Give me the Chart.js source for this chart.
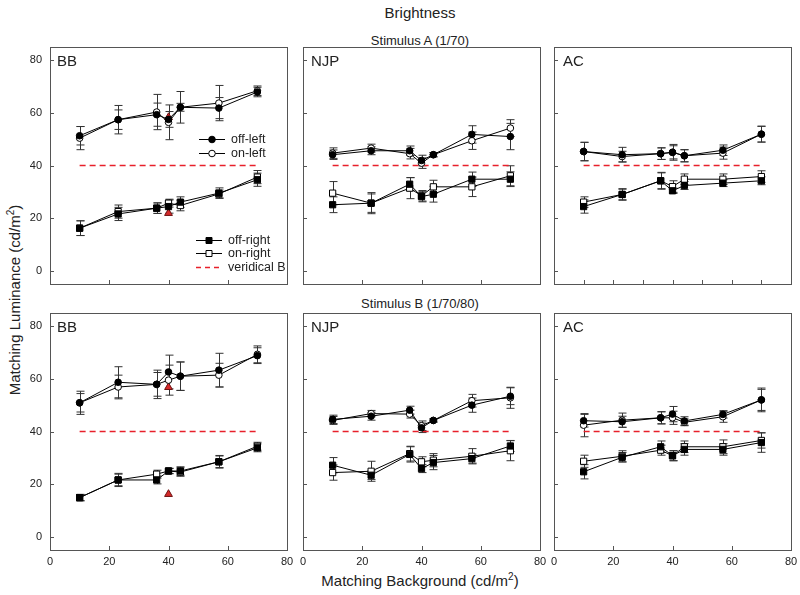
<!DOCTYPE html>
<html>
<head>
<meta charset="utf-8">
<script src="https://cdn.jsdelivr.net/npm/chart.js@4.4.1/dist/chart.umd.min.js"></script>
<style>
body { margin: 0; width: 800px; height: 595px; background: #fff; position: relative; overflow: hidden;
       font-family: "Liberation Sans", Arial, sans-serif; color: #222; }
.t { position: absolute; white-space: nowrap; transform: translate(-50%, -50%); }
.lab { position: absolute; font-size: 15px; }
canvas { position: absolute; }
</style>
</head>
<body>

<div class="t" style="left:420px;top:12px;font-size:15px">Brightness</div>
<div class="t" style="left:420px;top:40px;font-size:13px">Stimulus A (1/70)</div>
<div class="t" style="left:420px;top:303px;font-size:13px">Stimulus B (1/70/80)</div>
<div class="t" style="left:420px;top:580px;font-size:15px">Matching Background (cd/m<sup style="font-size:10px">2</sup>)</div>
<div class="t" style="left:14px;top:300px;font-size:15px;transform:translate(-50%,-50%) rotate(-90deg)">Matching Luminance (cd/m<sup style="font-size:10px">2</sup>)</div>

<canvas id="aBB" width="277" height="269" style="left:20px;top:39px"></canvas>
<canvas id="aNJP" width="277" height="269" style="left:273px;top:39px"></canvas>
<canvas id="aAC" width="277" height="269" style="left:524px;top:39px"></canvas>
<canvas id="bBB" width="277" height="269" style="left:20px;top:305px"></canvas>
<canvas id="bNJP" width="277" height="269" style="left:273px;top:305px"></canvas>
<canvas id="bAC" width="277" height="269" style="left:524px;top:305px"></canvas>

<div class="lab" style="left:57px;top:52px">BB</div>
<div class="lab" style="left:311px;top:52px">NJP</div>
<div class="lab" style="left:563px;top:52px">AC</div>
<div class="lab" style="left:57px;top:318px">BB</div>
<div class="lab" style="left:311px;top:318px">NJP</div>
<div class="lab" style="left:563px;top:318px">AC</div>

<script>
// background luminance of each condition
const xs = [10, 23, 36, 40, 44, 57, 70];
const yTicks = [0, 20, 40, 60, 80];
const xTicks = [0, 20, 40, 60, 80];
const xTicksFine = [0, 10, 20, 30, 40, 50, 60, 70, 80];
const veridical = 40;

// Stimulus A
const aBB_offL = [51.3, 57.4, 59.3, 57.5, 62.1, 61.8, 67.9];
const aBB_offL_err = [3.5, 5.4, 4.4, 3, 1.5, 4, 1.8];
const aBB_onL = [50.4, 57.4, 60.3, 56.4, 62.1, 63.7, 68.4];
const aBB_onL_err = [4.4, 3.7, 6.7, 6.6, 6, 6.7, 1.8];
const aBB_offR = [16.2, 21.6, 23.8, 24.4, 26.1, 29.5, 34.6];
const aBB_offR_err = [2.8, 2.5, 2, 2.5, 2, 2, 2.5];
const aBB_onR = [16.2, 22.5, 23.8, 25.7, 24.8, 29.2, 35.6];
const aBB_onR_err = [2.8, 2.5, 2, 1.5, 2, 1.5, 2.5];
const aBB_tri = [58.3, 21.9];

const aNJP_offL = [44.1, 45.6, 45.6, 41.9, 44.1, 51.8, 51.0];
const aNJP_offL_err = [1.8, 1.5, 1.8, 2, 0.8, 3.3, 5];
const aNJP_onL = [44.7, 46.6, 44.5, 40.9, 44.1, 49.4, 54.2];
const aNJP_onL_err = [2, 1.5, 2, 2, 0.8, 3.3, 3.2];
const aNJP_offR = [25.1, 25.7, 32.9, 28.2, 29.1, 34.8, 34.8];
const aNJP_offR_err = [3, 3.5, 2.5, 2, 3, 2.7, 2.8];
const aNJP_onR = [29.5, 25.7, 31.4, 28.5, 31.9, 31.9, 36.1];
const aNJP_onR_err = [4.4, 4, 4, 2, 2.5, 3.7, 3.8];

const aAC_offL = [45.3, 44.1, 44.5, 45.0, 43.7, 45.8, 51.9];
const aAC_offL_err = [3.5, 2.8, 2.2, 3, 2.3, 2, 3];
const aAC_onL = [45.3, 43.4, 44.5, 45.0, 43.7, 44.7, 51.9];
const aAC_onL_err = [3.5, 2, 2.2, 2.5, 2.3, 2.3, 3];
const aAC_offR = [24.4, 29.0, 34.2, 30.4, 32.4, 33.3, 34.2];
const aAC_offR_err = [2.5, 2.2, 3.2, 1, 1.5, 1.3, 1.5];
const aAC_onR = [26.1, 29.0, 34.2, 32.0, 34.8, 34.8, 35.8];
const aAC_onR_err = [2, 2, 3, 2.2, 2, 2, 2.2];

// Stimulus B
const bBB_offL = [50.9, 58.7, 57.9, 62.6, 61.0, 63.3, 68.8];
const bBB_offL_err = [4.4, 5.9, 5.4, 6.4, 5.4, 6.4, 3];
const bBB_onL = [50.9, 56.9, 57.9, 59.5, 61.0, 61.4, 69.3];
const bBB_onL_err = [3.5, 4.5, 4.5, 5.7, 5.4, 4.5, 3.2];
const bBB_offR = [14.9, 21.6, 21.6, 25.0, 25.0, 28.5, 33.8];
const bBB_offR_err = [1.2, 2.5, 1.5, 1, 1.6, 2.4, 1.5];
const bBB_onR = [14.9, 21.6, 23.8, 25.0, 24.6, 28.5, 34.4];
const bBB_onR_err = [1.2, 2.2, 1.5, 1, 1.6, 2.2, 1.5];
const bBB_tri = [56.8, 16.2];

const bNJP_offL = [44.6, 45.8, 48.1, 41.4, 44.2, 50.0, 53.4];
const bNJP_offL_err = [1.6, 1.5, 1.5, 1.8, 0.6, 2.7, 3.2];
const bNJP_onL = [44.2, 46.8, 46.6, 42.2, 44.2, 51.7, 52.8];
const bNJP_onL_err = [1.5, 1.2, 1.5, 1.8, 0.6, 2.4, 4];
const bNJP_offR = [27.2, 23.4, 31.3, 25.9, 28.2, 29.7, 34.5];
const bNJP_offR_err = [2.9, 1.6, 2.9, 1.5, 2.7, 1.7, 2.1];
const bNJP_onR = [24.4, 24.9, 31.6, 28.5, 29.1, 30.6, 32.7];
const bNJP_onR_err = [2.9, 3.8, 2.8, 1.9, 2.5, 2.9, 3.8];

const bAC_offL = [44.1, 43.7, 45.2, 46.6, 44.0, 46.5, 52.0];
const bAC_offL_err = [2.4, 2.1, 2.3, 2.9, 1.6, 1.4, 4];
const bAC_onL = [42.4, 44.3, 45.2, 45.2, 43.5, 45.6, 52.0];
const bAC_onL_err = [4.4, 2.7, 2.3, 2.5, 1.3, 2.1, 4.5];
const bAC_offR = [24.7, 30.2, 34.2, 30.8, 33.2, 33.2, 35.8];
const bAC_offR_err = [2.7, 1.8, 2.2, 1.9, 2.2, 2.2, 3.7];
const bAC_onR = [28.7, 30.6, 32.9, 30.8, 34.2, 34.2, 36.6];
const bAC_onR_err = [2.3, 2.1, 1.9, 1.9, 2.2, 2.6, 2.9];

const RED = '#e8202b';
const FRAME = '#555';
const FONT = '"Liberation Sans", Arial, sans-serif';

const pts = (vals) => vals.map((v, i) => ({ x: xs[i], y: v }));

function series(vals, err, style, fill) {
    return {
        data: pts(vals), err: err,
        borderColor: '#000', borderWidth: 1, lineTension: 0,
        pointStyle: style, pointRadius: style === 'rect' ? 4.4 : 3.3,
        pointBackgroundColor: fill, pointBorderColor: '#000', pointBorderWidth: 1
    };
}

// error bars, drawn under the markers
const errPlugin = {
    id: 'errbars',
    beforeDatasetsDraw(chart) {
        const ctx = chart.ctx, ys = chart.scales.y;
        ctx.save();
        ctx.strokeStyle = '#333';
        ctx.lineWidth = 1;
        chart.data.datasets.forEach((ds, di) => {
            if (!ds.err) return;
            chart.getDatasetMeta(di).data.forEach((p, i) => {
                const v = ds.data[i].y, e = ds.err[i];
                const top = ys.getPixelForValue(v + e), bot = ys.getPixelForValue(v - e);
                const x = Math.round(p.x) + 0.5;
                ctx.beginPath();
                ctx.moveTo(x, top); ctx.lineTo(x, bot);
                ctx.moveTo(x - 4, top); ctx.lineTo(x + 4, top);
                ctx.moveTo(x - 4, bot); ctx.lineTo(x + 4, bot);
                ctx.stroke();
            });
        });
        ctx.restore();
    }
};

// box round the plot and inward tick marks
const framePlugin = {
    id: 'frame',
    afterDraw(chart) {
        const ctx = chart.ctx, a = chart.chartArea;
        const xsc = chart.scales.x, ysc = chart.scales.y;
        ctx.save();
        ctx.strokeStyle = FRAME;
        ctx.lineWidth = 1;
        ctx.strokeRect(Math.round(a.left) + 0.5, Math.round(a.top) + 0.5,
                       Math.round(a.right - a.left), Math.round(a.bottom - a.top));
        ctx.beginPath();
        xsc.ticks.forEach(t => {
            const x = Math.round(xsc.getPixelForValue(t.value)) + 0.5;
            ctx.moveTo(x, a.bottom); ctx.lineTo(x, a.bottom - 4);
        });
        ysc.ticks.forEach(t => {
            const y = Math.round(ysc.getPixelForValue(t.value)) + 0.5;
            ctx.moveTo(a.left, y); ctx.lineTo(a.left + 4, y);
        });
        ctx.stroke();
        ctx.restore();
    }
};

// legend inside the first panel
const legendPlugin = {
    id: 'legendBB',
    afterDraw(chart) {
        const ctx = chart.ctx, a = chart.chartArea;
        const ox = a.left - 50, oy = a.top - 47;
        const items = [
            { y: 139, kind: 'circle', fill: '#000', text: 'off-left', x0: 199, x1: 225, mx: 212, tx: 231 },
            { y: 153, kind: 'circle', fill: '#fff', text: 'on-left', x0: 199, x1: 225, mx: 212, tx: 231 },
            { y: 240, kind: 'rect', fill: '#000', text: 'off-right', x0: 196, x1: 222, mx: 209, tx: 228 },
            { y: 253, kind: 'rect', fill: '#fff', text: 'on-right', x0: 196, x1: 222, mx: 209, tx: 228 },
            { y: 267, kind: 'dash', text: 'veridical B', x0: 196, x1: 222, tx: 228 }
        ];
        ctx.save();
        ctx.font = '12.5px ' + FONT;
        ctx.textBaseline = 'middle';
        items.forEach(it => {
            const y = it.y + oy + 0.5;
            ctx.beginPath();
            if (it.kind === 'dash') {
                ctx.strokeStyle = RED; ctx.lineWidth = 1.3; ctx.setLineDash([5, 4]);
            } else {
                ctx.strokeStyle = '#000'; ctx.lineWidth = 1; ctx.setLineDash([]);
            }
            ctx.moveTo(it.x0 + ox, y); ctx.lineTo(it.x1 + ox, y);
            ctx.stroke();
            ctx.setLineDash([]);
            ctx.lineWidth = 1;
            ctx.strokeStyle = '#000';
            ctx.fillStyle = it.fill;
            if (it.kind === 'circle') {
                ctx.beginPath(); ctx.arc(it.mx + ox, y, 3.3, 0, Math.PI * 2); ctx.fill(); ctx.stroke();
            } else if (it.kind === 'rect') {
                ctx.beginPath(); ctx.rect(it.mx + ox - 3, y - 3, 6, 6); ctx.fill(); ctx.stroke();
            }
            ctx.fillStyle = '#222';
            ctx.fillText(it.text, it.tx + ox, y);
        });
        ctx.restore();
    }
};

function noPad(s) {
    s.paddingTop = 0; s.paddingBottom = 0; s.paddingLeft = 0; s.paddingRight = 0;
}

function makePanel(id, offL, offLe, onL, onLe, offR, offRe, onR, onRe, tri, opts) {
    const datasets = [
        series(offL, offLe, 'circle', '#000'),
        series(onL, onLe, 'circle', '#fff'),
        series(offR, offRe, 'rect', '#000'),
        series(onR, onRe, 'rect', '#fff'),
        {
            data: [{ x: xs[0], y: veridical }, { x: xs[xs.length - 1], y: veridical }],
            borderColor: RED, borderWidth: 1.5, borderDash: [6, 4], pointRadius: 0
        }
    ];
    if (tri) {
        datasets.push({
            data: tri.map(v => ({ x: 40, y: v })), showLine: false,
            pointStyle: 'triangle', pointRadius: 4.5,
            pointBackgroundColor: '#d42a2a', pointBorderColor: '#6e1010', pointBorderWidth: 1
        });
    }
    const plugins = [errPlugin, framePlugin];
    if (opts.legend) plugins.push(legendPlugin);
    return new Chart(document.getElementById(id), {
        type: 'line',
        data: { datasets: datasets },
        options: {
            responsive: false,
            animation: false,
            layout: { padding: { top: 8, right: 10, left: 0, bottom: 0 } },
            plugins: { legend: { display: false }, tooltip: { enabled: false } },
            scales: {
                x: {
                    type: 'linear', min: 0, max: 80,
                    afterBuildTicks: s => { s.ticks = (opts.fine ? xTicksFine : xTicks).map(v => ({ value: v })); },
                    afterFit: s => { s.height = 24; noPad(s); },
                    ticks: { display: !!opts.xLabels, color: '#222', padding: 5, maxRotation: 0, autoSkip: false,
                             font: { family: FONT, size: 11 } },
                    grid: { display: false, drawTicks: false, tickLength: 0 },
                    border: { display: false }
                },
                y: {
                    type: 'linear', min: -5, max: 85,
                    afterBuildTicks: s => { s.ticks = yTicks.map(v => ({ value: v })); },
                    afterFit: s => { s.width = 30; noPad(s); },
                    ticks: { display: !!opts.yLabels, color: '#222', padding: 8,
                             font: { family: FONT, size: 11 } },
                    grid: { display: false, drawTicks: false, tickLength: 0 },
                    border: { display: false }
                }
            }
        },
        plugins: plugins
    });
}

makePanel('aBB', aBB_offL, aBB_offL_err, aBB_onL, aBB_onL_err, aBB_offR, aBB_offR_err, aBB_onR, aBB_onR_err, aBB_tri,
          { yLabels: true, legend: true });
makePanel('aNJP', aNJP_offL, aNJP_offL_err, aNJP_onL, aNJP_onL_err, aNJP_offR, aNJP_offR_err, aNJP_onR, aNJP_onR_err, null, {});
makePanel('aAC', aAC_offL, aAC_offL_err, aAC_onL, aAC_onL_err, aAC_offR, aAC_offR_err, aAC_onR, aAC_onR_err, null, { fine: true });
makePanel('bBB', bBB_offL, bBB_offL_err, bBB_onL, bBB_onL_err, bBB_offR, bBB_offR_err, bBB_onR, bBB_onR_err, bBB_tri,
          { yLabels: true, xLabels: true });
makePanel('bNJP', bNJP_offL, bNJP_offL_err, bNJP_onL, bNJP_onL_err, bNJP_offR, bNJP_offR_err, bNJP_onR, bNJP_onR_err, null,
          { xLabels: true });
makePanel('bAC', bAC_offL, bAC_offL_err, bAC_onL, bAC_onL_err, bAC_offR, bAC_offR_err, bAC_onR, bAC_onR_err, null,
          { xLabels: true });
</script>
</body>
</html>
